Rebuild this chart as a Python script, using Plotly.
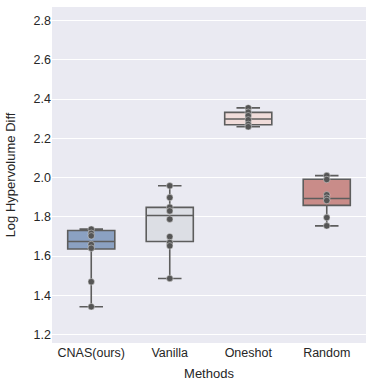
import plotly.graph_objects as go

# methods on the x axis
methods = ["CNAS(ours)", "Vanilla", "Oneshot", "Random"]

# individual runs (log hypervolume difference)
cnas = [1.737, 1.716, 1.703, 1.659, 1.640, 1.469, 1.342]
vanilla = [1.958, 1.898, 1.849, 1.830, 1.788, 1.699, 1.669, 1.652, 1.486]
oneshot = [2.355, 2.333, 2.315, 2.294, 2.271, 2.259]
random_ = [2.010, 1.990, 1.912, 1.895, 1.883, 1.796, 1.754]

# box statistics as drawn in the reference
q1 = [1.636, 1.674, 2.269, 1.858]
median = [1.674, 1.807, 2.298, 1.893]
q3 = [1.730, 1.848, 2.332, 1.991]
lower = [1.342, 1.486, 2.259, 1.754]
upper = [1.737, 1.958, 2.355, 2.010]

colors = ["#8ba1c2", "#dcdee4", "#f0dcda", "#c98c89"]
points = [cnas, vanilla, oneshot, random_]

fig = go.Figure()

for i, m in enumerate(methods):
    fig.add_trace(go.Box(
        x=[m], q1=[q1[i]], median=[median[i]], q3=[q3[i]],
        lowerfence=[lower[i]], upperfence=[upper[i]],
        fillcolor=colors[i], line=dict(color="#5d5d5d", width=1.6),
        width=0.6, whiskerwidth=0.5, boxpoints=False,
        showlegend=False, hoverinfo="skip",
    ))

for i, m in enumerate(methods):
    fig.add_trace(go.Scatter(
        x=[m] * len(points[i]), y=points[i], mode="markers",
        marker=dict(size=6.5, color="#555555", line=dict(color="#dddddd", width=0.5)),
        showlegend=False,
    ))

fig.update_layout(
    width=374, height=381,
    margin=dict(l=52, r=8, t=7, b=38),
    plot_bgcolor="#eaeaf2", paper_bgcolor="white",
    font=dict(family="Liberation Sans, Arial, sans-serif", size=12.5, color="#262626"),
    boxmode="overlay",
)
fig.update_xaxes(
    title=dict(text="Methods", font=dict(size=13)),
    showgrid=False, ticks="", categoryorder="array", categoryarray=methods,
    range=[-0.5, 3.5], automargin=False,
)
fig.update_yaxes(
    title=dict(text="Log Hypervolume Diff", font=dict(size=13)),
    range=[1.157, 2.869], tickvals=[1.2, 1.4, 1.6, 1.8, 2.0, 2.2, 2.4, 2.6, 2.8],
    tickformat=".1f", gridcolor="white", gridwidth=1.2, zeroline=False, ticks="",
    automargin=False,
)

# drop the browser's default page margin so the figure sits at the top-left corner
fig.write_html("out.html", config={"displayModeBar": False},
               post_script="document.body.style.margin='0';")
